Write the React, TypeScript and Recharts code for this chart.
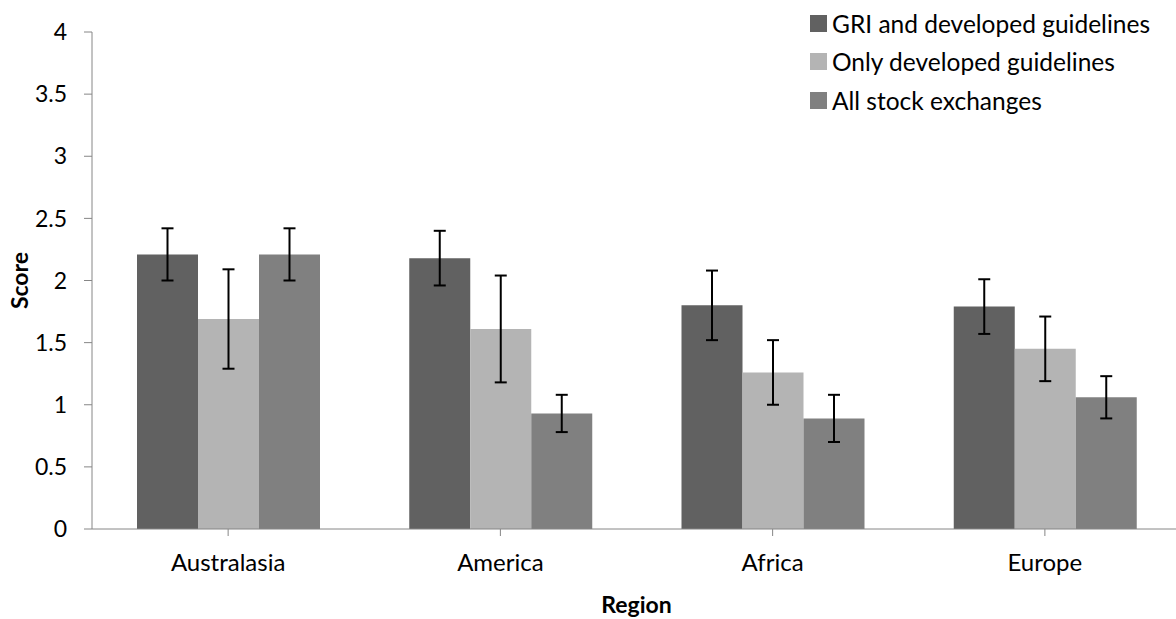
import React from "react";
import { BarChart, Bar, XAxis, YAxis, ErrorBar, Legend, Label } from "recharts";

const regions = ["Australasia", "America", "Africa", "Europe"];
const griValues = [2.21, 2.18, 1.80, 1.79];
const griErrors = [0.21, 0.22, 0.28, 0.22];
const onlyValues = [1.69, 1.61, 1.26, 1.45];
const onlyErrors = [0.40, 0.43, 0.26, 0.26];
const allValues = [2.21, 0.93, 0.89, 1.06];
const allErrors = [0.21, 0.15, 0.19, 0.17];
const yTicks = [0, 0.5, 1, 1.5, 2, 2.5, 3, 3.5, 4];

const seriesNames = ["GRI and developed guidelines", "Only developed guidelines", "All stock exchanges"];
const colors = ["#616161", "#b4b4b4", "#808080"];

const data = regions.map((r, i) => ({
  region: r,
  gri: griValues[i],
  griErr: griErrors[i],
  only: onlyValues[i],
  onlyErr: onlyErrors[i],
  all: allValues[i],
  allErr: allErrors[i],
}));

const FONT = "Lato, 'Noto Sans', sans-serif";

const LegendContent = () => (
  <div style={{ fontFamily: FONT, fontSize: 24.5, color: "#000" }}>
    {seriesNames.map((name, i) => (
      <div key={i} style={{ display: "flex", alignItems: "center", height: 38.5 }}>
        <div style={{ width: 17, height: 17, background: colors[i], marginRight: 5 }} />
        <span>{name}</span>
      </div>
    ))}
  </div>
);

export default function App() {
  return (
    <div style={{ position: "absolute", left: 0, top: 0, width: 1176, height: 619, overflow: "hidden", background: "#fff" }}>
      <BarChart
        width={1181}
        height={619}
        data={data}
        margin={{ top: 32, right: 0, bottom: 0, left: 0 }}
        barCategoryGap={45}
        barGap={0}
      >
        <XAxis
          dataKey="region"
          height={90}
          stroke="#868686"
          tickLine={{ stroke: "#868686" }}
          tickSize={7}
          tick={{ fill: "#000", fontSize: 24, fontFamily: FONT }}
          tickMargin={18}
        >
          <Label value="Region" position="insideBottom" offset={6} style={{ fontFamily: FONT, fontSize: 23, fontWeight: 700, fill: "#000" }} />
        </XAxis>
        <YAxis
          domain={[0, 4]}
          ticks={yTicks}
          width={92}
          stroke="#868686"
          tickLine={{ stroke: "#868686" }}
          tickSize={8}
          tickMargin={17}
          tick={{ fill: "#000", fontSize: 23, fontFamily: FONT }}
          interval={0}
        >
          <Label value="Score" angle={-90} position="insideLeft" offset={20} style={{ fontFamily: FONT, fontSize: 23, fontWeight: 700, fill: "#000", textAnchor: "middle" }} />
        </YAxis>
        <Legend
          layout="horizontal"
          verticalAlign="middle"
          align="center"
          content={<LegendContent />}
          wrapperStyle={{ top: 4, left: 810, width: 370 }}
        />
        <Bar dataKey="gri" name={seriesNames[0]} fill={colors[0]} isAnimationActive={false}>
          <ErrorBar dataKey="griErr" width={6} strokeWidth={2} stroke="#000" />
        </Bar>
        <Bar dataKey="only" name={seriesNames[1]} fill={colors[1]} isAnimationActive={false}>
          <ErrorBar dataKey="onlyErr" width={6} strokeWidth={2} stroke="#000" />
        </Bar>
        <Bar dataKey="all" name={seriesNames[2]} fill={colors[2]} isAnimationActive={false}>
          <ErrorBar dataKey="allErr" width={6} strokeWidth={2} stroke="#000" />
        </Bar>
      </BarChart>
    </div>
  );
}
